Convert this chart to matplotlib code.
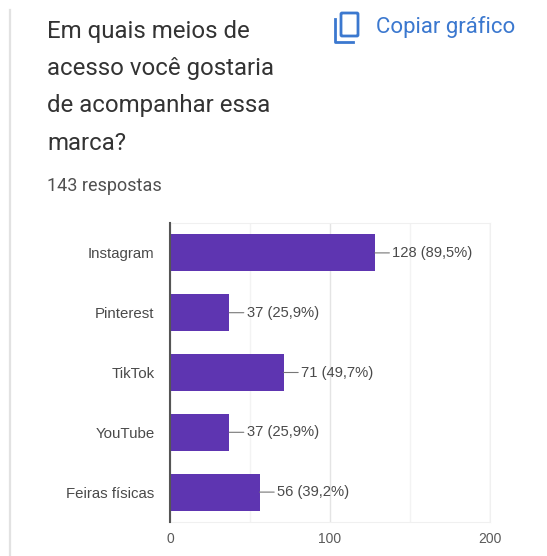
import matplotlib
matplotlib.use('Agg')
import matplotlib.pyplot as plt
from matplotlib.patches import FancyBboxPatch
from matplotlib.lines import Line2D

W, H = 547, 556

categorias = ['Instagram', 'Pinterest', 'TikTok', 'YouTube', 'Feiras físicas']
respostas = [128, 37, 71, 37, 56]
rotulos = ['128 (89,5%)', '37 (25,9%)', '71 (49,7%)', '37 (25,9%)', '56 (39,2%)']
ticks_x = [0, 100, 200]
titulo = ['Em quais meios de', 'acesso você gostaria', 'de acompanhar essa', 'marca?']
baselines = [38, 75, 112, 150]

ROXO = '#5e35b1'
AZUL = '#3b78cf'


def fx(px):
    return px / W


def fy(px):
    return 1 - px / H


fig = plt.figure(figsize=(W / 100, H / 100), dpi=100, facecolor='white')

# barra cinza na margem esquerda do cartao
fig.add_artist(Line2D([fx(10), fx(10)], [fy(10), 0], color='#e2e2e2', lw=1.6))

# cabecalho
for linha, y in zip(titulo, baselines):
    fig.text(fx(47), fy(y), linha, family='Roboto', fontsize=17.3, color='#333333', va='baseline')
fig.text(fx(47), fy(191), '143 respostas', family='Roboto', fontsize=13, color='#505050', va='baseline')
fig.text(fx(376), fy(33), 'Copiar gráfico', family='Roboto', fontsize=16, color=AZUL, va='baseline')

# icone de copiar
fig.add_artist(FancyBboxPatch((fx(341), fy(36)), fx(17), 23 / H, boxstyle='round,pad=0,rounding_size=0.002',
                              fill=False, ec=AZUL, lw=2, transform=fig.transFigure))
fig.add_artist(Line2D([fx(335), fx(335), fx(353)], [fy(19), fy(41.5), fy(41.5)], color=AZUL, lw=2))

# grafico de barras
ax = fig.add_axes([fx(170), fy(522), fx(320), 299 / H])
pos = range(len(categorias))
ax.barh(pos, respostas, height=0.62, color=ROXO, zorder=3)
ax.set_xlim(0, 200)
ax.set_ylim(len(categorias) - 0.5, -0.5)

ax.set_xticks(ticks_x)
ax.set_xticks([50, 150], minor=True)
ax.set_yticks(list(pos))
ax.set_yticklabels(categorias)
ax.grid(True, axis='x', which='major', color='#e4e4e4', lw=1, zorder=0)
ax.grid(True, axis='x', which='minor', color='#f3f3f3', lw=1, zorder=0)
ax.tick_params(axis='both', which='both', length=0)
ax.tick_params(axis='y', pad=11, labelsize=10.8, labelcolor='#4a4a4a')
ax.tick_params(axis='x', pad=7, labelsize=10, labelcolor='#5a5a5a')
for rotulo in ax.get_xticklabels() + ax.get_yticklabels():
    rotulo.set_family('Liberation Sans')

for lado in ['top', 'bottom', 'right']:
    ax.spines[lado].set_color('#f0f0f0')
ax.spines['left'].set_color('#555555')
ax.spines['left'].set_linewidth(1.5)
ax.spines['left'].set_zorder(4)

# valor de cada barra ligado por um traco curto
for i, (v, txt) in enumerate(zip(respostas, rotulos)):
    ax.annotate(txt, xy=(v, i), xytext=(12.5, 0), textcoords='offset points', va='center', ha='left',
                family='Liberation Sans', fontsize=10.6, color='#4a4a4a', zorder=5,
                arrowprops=dict(arrowstyle='-', color='#777777', lw=0.8, shrinkA=0, shrinkB=0))

fig.savefig('out.png', dpi=100)
